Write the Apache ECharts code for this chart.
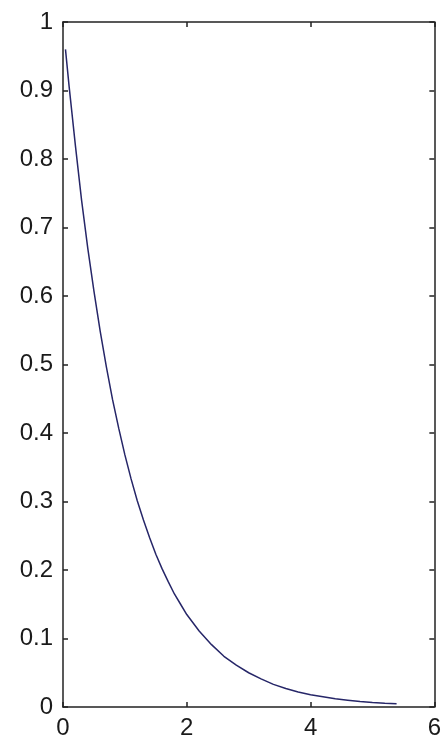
<!DOCTYPE html>
<html>
<head>
<meta charset="utf-8">
<script src="https://cdn.jsdelivr.net/npm/echarts@6/dist/echarts.min.js"></script>
<style>html,body{margin:0;padding:0;background:#fff}#c{width:444px;height:742px}</style>
</head>
<body>
<div id="c"></div>
<script>
const xValues = [0.04,0.1,0.2,0.3,0.4,0.5,0.6,0.7,0.8,0.9,1.0,1.1,1.2,1.3,1.4,1.5,1.6,1.7,1.8,1.9,2.0,2.2,2.4,2.6,2.8,3.0,3.2,3.4,3.6,3.8,4.0,4.2,4.4,4.6,4.8,5.0,5.2,5.39];
const yValues = [0.96,0.905,0.82,0.74,0.67,0.607,0.549,0.497,0.449,0.407,0.368,0.333,0.301,0.273,0.247,0.223,0.202,0.183,0.165,0.150,0.135,0.111,0.091,0.074,0.061,0.050,0.041,0.033,0.027,0.022,0.018,0.015,0.012,0.010,0.008,0.0067,0.0055,0.0046];
const xTickLabels = ['0','2','4','6'];
const yTickLabels = ['0','0.1','0.2','0.3','0.4','0.5','0.6','0.7','0.8','0.9','1'];

const chart = echarts.init(document.getElementById('c'), null, {renderer:'canvas'});
const lab = {color:'#1a1a1a', fontFamily:'Liberation Sans, Arial, sans-serif', fontSize:24};
const axLine = {show:true, onZero:false, lineStyle:{color:'#222', width:1.5}};
const tick = {show:true, inside:true, length:5, lineStyle:{color:'#222', width:1.5}};
chart.setOption({
  animation:false,
  backgroundColor:'#fff',
  grid:{left:63, right:4, top:22, bottom:35, containLabel:false},
  xAxis:[
    {type:'value', min:0, max:6, interval:2, position:'bottom',
     axisLine:axLine, axisTick:tick, splitLine:{show:false},
     axisLabel:Object.assign({margin:9, formatter:(v)=>xTickLabels[Math.round(v/2)]}, lab)},
    {type:'value', min:0, max:6, interval:2, position:'top',
     axisLine:axLine, axisTick:tick, splitLine:{show:false}, axisLabel:{show:false}}
  ],
  yAxis:[
    {type:'value', min:0, max:1, interval:0.1, position:'left',
     axisLine:axLine, axisTick:tick, splitLine:{show:false},
     axisLabel:Object.assign({margin:10, formatter:(v)=>yTickLabels[Math.round(v*10)]}, lab)},
    {type:'value', min:0, max:1, interval:0.1, position:'right',
     axisLine:axLine, axisTick:tick, splitLine:{show:false}, axisLabel:{show:false}}
  ],
  series:[{
    type:'line', xAxisIndex:0, yAxisIndex:0, showSymbol:false, symbol:'none',
    smooth:false,
    lineStyle:{color:'#262668', width:1.5},
    data:xValues.map((x,i)=>[x,yValues[i]])
  }]
});
</script>
</body>
</html>
